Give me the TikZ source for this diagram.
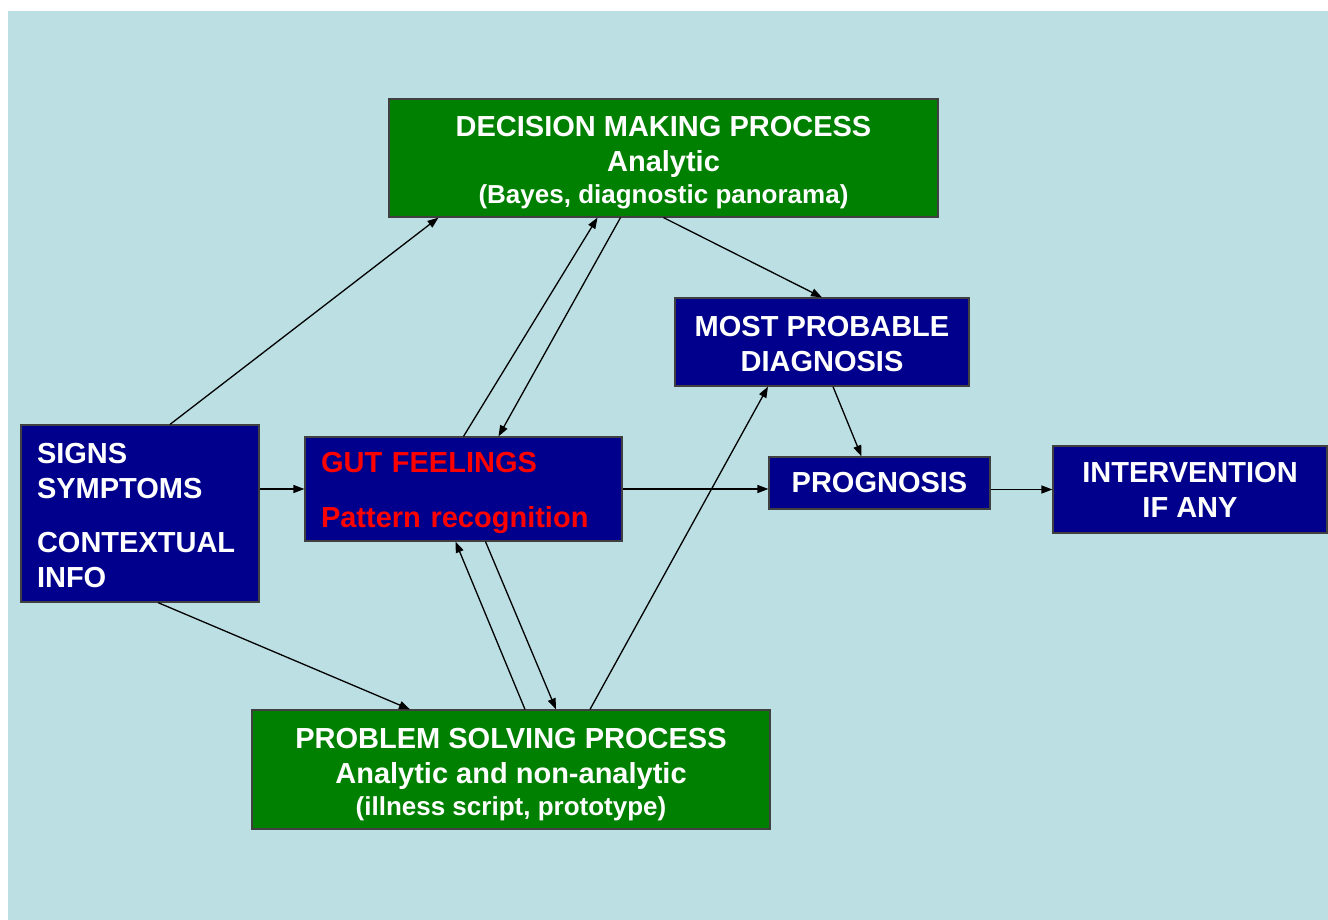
\documentclass[tikz,border=0pt]{standalone}
\usepackage{fontspec}
\setmainfont{Liberation Sans}
\usetikzlibrary{arrows.meta,positioning}

\definecolor{sky}{RGB}{187,223,227}
\definecolor{navy}{RGB}{0,0,140}
\definecolor{leaf}{RGB}{0,128,0}
\definecolor{alarm}{RGB}{255,0,0}

% strut that pushes a node's first line down
\newcommand{\lowstrut}[1]{\rule{0pt}{#1}}

\begin{document}
\begin{tikzpicture}[x=1pt,y=-1pt,>={Triangle[length=11pt,width=8pt]},
	box/.style={draw=black!75,line width=1.2pt,inner sep=0pt,text=white,align=center,
		font=\bfseries\fontsize{29}{35}\selectfont},
	navybox/.style={box,fill=navy},
	greenbox/.style={box,fill=leaf},
	leftbox/.style={navybox,align=left,inner xsep=16pt},
	link/.style={->,line width=1.3pt,shorten >=0pt}]
	\useasboundingbox (0,0) rectangle (1328,920);
	\fill[sky] (8,11) rectangle (1328,920);

	\node[greenbox,minimum width=549pt,minimum height=118pt] (dec) at (663.5,158)
		{\lowstrut{30pt}DECISION MAKING PROCESS\\Analytic\\[-3pt]{\fontsize{26}{33}\selectfont(Bayes, diagnostic panorama)}};
	\node[leftbox,text width=206pt,minimum height=177pt] (signs) at (140,513.5)
		{\lowstrut{25pt}SIGNS\\SYMPTOMS\\[19pt]CONTEXTUAL\\INFO};
	\node[leftbox,text width=285pt,minimum height=104pt,text=alarm] (gut) at (463.5,489)
		{\lowstrut{29pt}GUT FEELINGS\\[20pt]Pattern recognition};
	\node[navybox,minimum width=294pt,minimum height=88pt] (most) at (822,342)
		{\lowstrut{24pt}MOST PROBABLE\\DIAGNOSIS};
	\node[navybox,minimum width=221pt,minimum height=52pt] (prog) at (879.5,483)
		{PROGNOSIS};
	\node[navybox,minimum width=274pt,minimum height=87pt] (interv) at (1190,489.5)
		{INTERVENTION\\IF ANY};
	\node[greenbox,minimum width=518pt,minimum height=119pt] (prob) at (511,769.5)
		{\lowstrut{30pt}PROBLEM SOLVING PROCESS\\Analytic and non-analytic\\[-3pt]{\fontsize{26}{33}\selectfont(illness script, prototype)}};

	\path[link]
		([xshift=30pt]signs.north) edge ([xshift=-225pt]dec.south)
		(gut.north) edge ([xshift=-66pt]dec.south)
		([xshift=-43pt]dec.south) edge ([xshift=35pt]gut.north)
		(dec.south) edge (most.north)
		(signs.east |- gut) edge (gut.west)
		(gut.east) edge (gut.east -| prog.west)
		([xshift=11pt]most.south) edge ([xshift=-18pt]prog.north)
		(interv.west -| prog.east) edge (interv.west)
		([xshift=18pt]signs.south) edge ([xshift=-101pt]prob.north)
		([xshift=14pt]prob.north) edge ([xshift=-8pt]gut.south)
		([xshift=22pt]gut.south) edge ([xshift=45pt]prob.north)
		([xshift=79pt]prob.north) edge ([xshift=-54pt]most.south);
\end{tikzpicture}
\end{document}
